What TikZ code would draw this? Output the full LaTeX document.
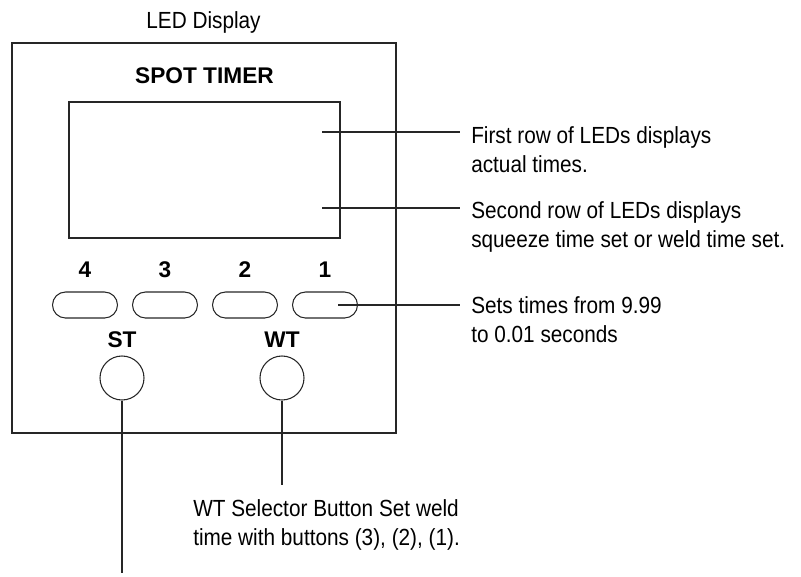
\documentclass[tikz,border=0pt]{standalone}
\usepackage{fontspec}
\setmainfont{Liberation Sans}
\newfontfamily\condfont{Liberation Sans}[FakeStretch=0.89]
\usetikzlibrary{shapes.misc}

\begin{document}
\begin{tikzpicture}[
    x=.75pt,y=-.75pt,
    pill/.style={rounded rectangle,draw=black!85,line width=.8pt,minimum width=48.75pt,minimum height=19.5pt,inner sep=0pt},
    knob/.style={circle,draw=black!85,line width=.8pt,minimum size=33pt,inner sep=0pt},
    lead/.style={line width=.8pt,black!85},
    lab/.style={font=\fontsize{17}{20}\selectfont\bfseries,inner sep=0pt,anchor=base},
    note/.style={font=\condfont\fontsize{17.5}{21.4}\selectfont,align=left,inner sep=0pt,anchor=base west}
  ]
  \useasboundingbox (0,0) rectangle (801,576);
  % front panel
  \node[note,anchor=base] (title) at (203.5,28) {LED Display};
  \draw[lead] (12,43) rectangle (396,433);
  \node[lab] (name) at (204.5,83) {SPOT TIMER};
  \node[draw=black!85,line width=.8pt,minimum width=203.25pt,minimum height=102pt,inner sep=0pt] (screen) at (204.5,170) {};
  % set buttons
  \foreach \n [count=\i] in {4,3,2,1} {
    \node[lab] (d\n) at (5+80*\i,277) {\n};
    \node[pill] (p\n) at (5+80*\i,305) {};
  }
  \node[lab] (st) at (122,347) {ST}; \node[lab] (wt) at (282,347) {WT};
  \node[knob] (kst) at (122,378) {}; \node[knob] (kwt) at (282,378) {};
  % callouts (base = last line)
  \coordinate (r1) at (322,132); \coordinate (r1e) at (460,132);
  \coordinate (r2) at (322,208); \coordinate (r2e) at (460,208);
  \coordinate (s1) at (338,305); \coordinate (s1e) at (460,305);
  \coordinate (wte) at (282,485); \coordinate (ste) at (122,573);
  \draw[lead] (r1)--(r1e); \draw[lead] (r2)--(r2e); \draw[lead] (s1)--(s1e);
  \draw[lead] (kwt.south)--(wte); \draw[lead] (kst.south)--(ste);
  \node[note] (n1) at (471,172) {First row of LEDs displays\\actual times.};
  \node[note] (n2) at (471,247) {Second row of LEDs displays\\squeeze time set or weld time set.};
  \node[note] (n3) at (471,342) {Sets times from 9.99\\to 0.01 seconds};
  \node[note] (n4) at (193,545) {WT Selector Button Set weld\\time with buttons (3), (2), (1).};
\end{tikzpicture}
\end{document}
